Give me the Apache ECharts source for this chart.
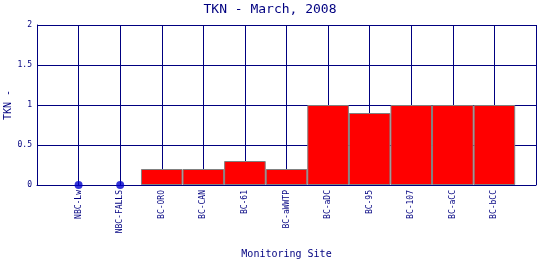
<!DOCTYPE html>
<html><head><meta charset="utf-8">
<script src="https://cdn.jsdelivr.net/npm/echarts@6/dist/echarts.min.js"></script>
<style>html,body{margin:0;padding:0;background:#fff}#c{width:540px;height:260px}</style>
</head><body><div id="c"></div>
<script>
var sites = ['NBC-Lw','NBC-FALLS','BC-ORO','BC-CAN','BC-61','BC-aWWTP','BC-aDC','BC-95','BC-107','BC-aCC','BC-bCC'];
var barValues = [null, null, 0.2, 0.2, 0.3, 0.2, 1.0, 0.9, 1.0, 1.0, 1.0];
var zeroValues = [0, 0, null, null, null, null, null, null, null, null, null];
var yTicks = [0, 0.5, 1, 1.5, 2];

var navy = '#000080';
var font = 'DejaVu Sans Mono';
var cats = [''].concat(sites, ['']);
function pad(a){ return [null].concat(a, [null]); }

var chart = echarts.init(document.getElementById('c'), null, {renderer:'canvas'});
chart.setOption({
  animation: false,
  backgroundColor: '#fff',
  title: {
    text: 'TKN - March, 2008', left: 'center', top: -2,
    textStyle: {color: navy, fontFamily: font, fontSize: 13, fontWeight: 'normal'}
  },
  grid: {left: 37, right: 4, top: 25, bottom: 75, containLabel: false, outerBoundsMode: 'none'},
  xAxis: {
    type: 'category', data: cats, boundaryGap: false,
    name: 'Monitoring Site', nameLocation: 'middle', nameGap: 64, nameMoveOverlap: false,
    nameTextStyle: {color: navy, fontFamily: font, fontSize: 10},
    axisLine: {lineStyle: {color: navy, width: 1}},
    axisTick: {show: false},
    axisLabel: {rotate: 90, color: navy, fontFamily: font, fontSize: 8, margin: 5, interval: 0},
    splitLine: {show: true, interval: 0, lineStyle: {color: navy, width: 1}}
  },
  yAxis: {
    type: 'value', min: yTicks[0], max: yTicks[yTicks.length-1], interval: 0.5,
    name: 'TKN -', nameLocation: 'middle', nameGap: 24, nameRotate: 90, nameMoveOverlap: false,
    nameTextStyle: {color: navy, fontFamily: font, fontSize: 10},
    axisLine: {show: true, lineStyle: {color: navy, width: 1}},
    axisTick: {show: false},
    axisLabel: {color: navy, fontFamily: font, fontSize: 8, margin: 5},
    splitLine: {show: true, lineStyle: {color: navy, width: 1}}
  },
  series: [
    {
      type: 'bar', data: pad(barValues), barWidth: '100%', barGap: '0%',
      itemStyle: {color: '#ff0000', borderColor: '#808080', borderWidth: 1}
    },
    {
      type: 'scatter', data: pad(zeroValues), symbol: 'circle', symbolSize: 8,
      itemStyle: {color: '#0000cc'}, z: 5
    }
  ]
});
</script></body></html>
